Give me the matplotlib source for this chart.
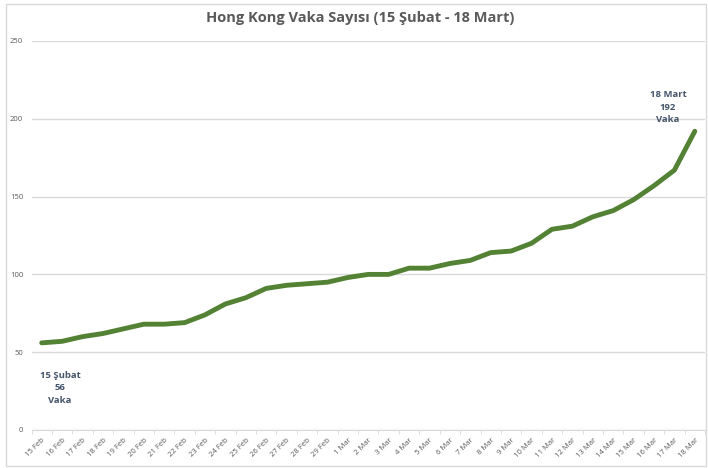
import matplotlib
matplotlib.use("Agg")
import matplotlib.pyplot as plt
from matplotlib.patches import Rectangle

dates = ["15 Feb", "16 Feb", "17 Feb", "18 Feb", "19 Feb", "20 Feb", "21 Feb", "22 Feb",
         "23 Feb", "24 Feb", "25 Feb", "26 Feb", "27 Feb", "28 Feb", "29 Feb",
         "1 Mar", "2 Mar", "3 Mar", "4 Mar", "5 Mar", "6 Mar", "7 Mar", "8 Mar", "9 Mar",
         "10 Mar", "11 Mar", "12 Mar", "13 Mar", "14 Mar", "15 Mar", "16 Mar", "17 Mar", "18 Mar"]
cases = [56, 57, 60, 62, 65, 68, 68, 69, 74, 81, 85, 91, 93, 94, 95,
         98, 100, 100, 104, 104, 107, 109, 114, 115, 120, 129, 131, 137, 141, 148, 157, 167, 192]
yticks = [0, 50, 100, 150, 200, 250]
title = "Hong Kong Vaka Sayısı (15 Şubat - 18 Mart)"
first_label = "15 Şubat\n56\nVaka"
last_label = "18 Mart\n192\nVaka"

plt.rcParams['font.family'] = ['Open Sans', 'DejaVu Sans']

fig = plt.figure(figsize=(7.08, 4.68), dpi=100)
W, H = 708, 468
ax = fig.add_axes([31.5 / W, 1 - 430 / H, (705 - 31.5) / W, (430 - 41) / H])

x = list(range(len(dates)))
ax.plot(x, cases, color='#548235', lw=3.5, solid_capstyle='round', solid_joinstyle='round', zorder=3)

ax.set_xlim(-0.5, len(dates) - 0.5)
ax.set_ylim(0, 250)
ax.set_yticks(yticks)
ax.set_yticklabels([str(v) for v in yticks], fontsize=5.5, color='#595959')
ax.yaxis.grid(True, color='#D9D9D9', lw=1)
ax.set_axisbelow(True)
ax.tick_params(axis='y', length=0, pad=6)

ax.set_xticks(x)
ax.set_xticklabels(dates, rotation=45, ha='right', rotation_mode='anchor', fontsize=5.5, color='#595959')
ax.set_xticks([i - 0.5 for i in range(len(dates) + 1)], minor=True)
ax.tick_params(axis='x', which='major', length=0, pad=5)
ax.tick_params(axis='x', which='minor', length=3, color='#D9D9D9')

for s in ['top', 'right', 'left']:
    ax.spines[s].set_visible(False)
ax.spines['bottom'].set_color('#D9D9D9')

fig.text(360 / W, 1 - 18 / H, title, ha='center', va='center', fontsize=10.5,
         fontweight='bold', color='#595959')

ax.annotate(first_label, xy=(0, cases[0]), xytext=(60 / W, 1 - 388 / H), textcoords='figure fraction',
            ha='center', va='center', fontsize=6.8, fontweight='bold', color='#44546A', linespacing=1.45)
ax.annotate(last_label, xy=(len(dates) - 1, cases[-1]), xytext=(668 / W, 1 - 107 / H), textcoords='figure fraction',
            ha='center', va='center', fontsize=6.8, fontweight='bold', color='#44546A', linespacing=1.45)

fig.patches.append(Rectangle((6 / W, 2 / H), 700 / W, 462 / H, transform=fig.transFigure,
                             fill=False, edgecolor='#D9D9D9', lw=1))

fig.savefig("out.png", dpi=100)
